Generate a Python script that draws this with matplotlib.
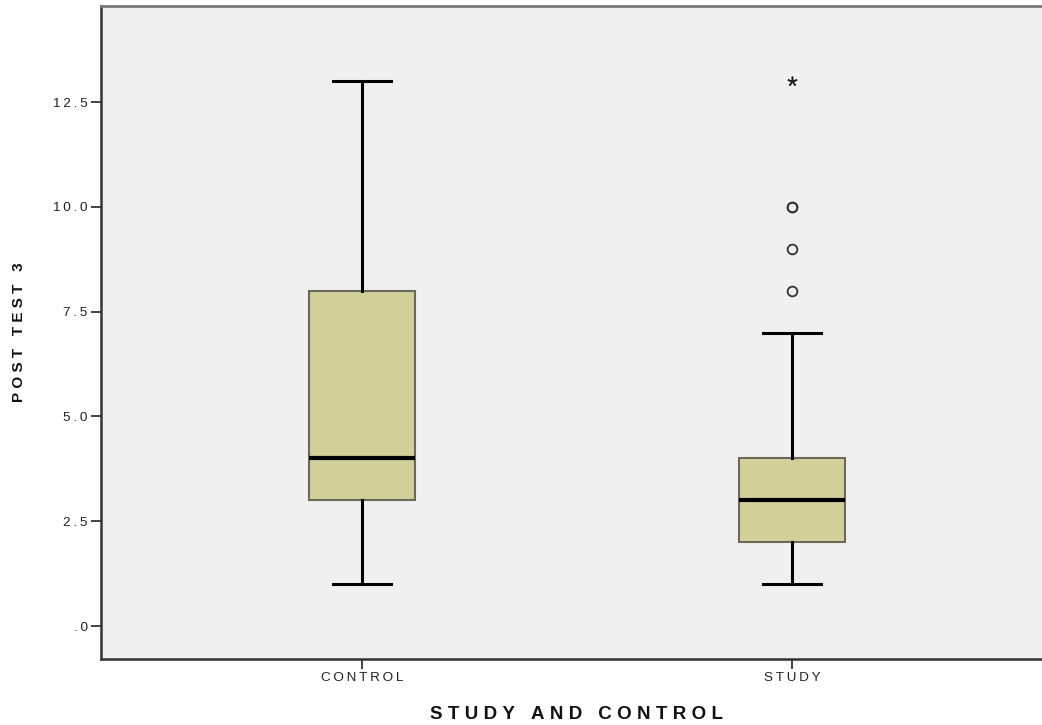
import matplotlib.pyplot as plt

# Group summary values
groups = ['CONTROL', 'STUDY']
whisker_low = [1, 1]
q1 = [3, 2]
medians = [4, 3]
q3 = [8, 4]
whisker_high = [13, 7]
outliers = [[], [8, 9, 10, 10]]      # circles
extremes = [[], [13]]                 # stars
y_ticks = [0, 2.5, 5.0, 7.5, 10.0, 12.5]
y_tick_labels = ['.0', '2.5', '5.0', '7.5', '10.0', '12.5']

FONT = ['Liberation Sans', 'DejaVu Sans']


def spaced(s, gap='\u2009'):
    # SPSS draws its text with wide letter spacing
    return gap.join(s)


fig = plt.figure(figsize=(10.42, 7.25), dpi=100)
ax = fig.add_axes([0.0969, 0.091, 0.9137, 0.9007])
ax.set_facecolor('#f0f0f0')

stats = []
for i, g in enumerate(groups):
    stats.append({'label': g, 'whislo': whisker_low[i], 'q1': q1[i], 'med': medians[i],
                  'q3': q3[i], 'whishi': whisker_high[i], 'fliers': outliers[i]})

positions = list(range(1, len(groups) + 1))
ax.bxp(stats, positions=positions, widths=0.247, patch_artist=True,
       boxprops=dict(facecolor='#d3cf98', edgecolor='#6a6a5a', linewidth=1.5),
       whiskerprops=dict(color='black', linewidth=2.2),
       capprops=dict(color='black', linewidth=2.2),
       medianprops=dict(color='black', linewidth=3),
       flierprops=dict(marker='o', markerfacecolor='none', markeredgecolor='#333333',
                       markersize=7, markeredgewidth=1.3),
       capwidths=0.135, zorder=3)

for i, ext in enumerate(extremes):
    if ext:
        ax.plot([positions[i]] * len(ext), ext, linestyle='none', marker=(5, 2, 0),
                color='#222222', markersize=7, markeredgewidth=1.1, zorder=4)

ax.set_xlim(0.393, 2.607)
ax.set_ylim(-0.787, 14.79)
ax.set_yticks(y_ticks)
ax.set_yticklabels([spaced(t) for t in y_tick_labels], fontsize=9.7,
                   family=FONT, color='#222222')
ax.set_xticks(positions)
ax.set_xticklabels([spaced(g) for g in groups], fontsize=9.7,
                   family=FONT, color='#222222')
ax.tick_params(axis='both', length=7, width=1.3, color='#333333', pad=2.5)

for side in ['left', 'bottom']:
    ax.spines[side].set_linewidth(1.8)
    ax.spines[side].set_color('#333333')
ax.spines['top'].set_linewidth(2)
ax.spines['top'].set_color('#777777')
ax.spines['right'].set_visible(False)

fig.text(0.5535, 0.0138, spaced('STUDY AND CONTROL', '\u2009\u200a'), ha='center',
         va='center', fontsize=13.5, fontweight='bold', family=FONT, color='#111111')
fig.text(0.018, 0.5414, spaced('POST TEST 3', '\u2009\u200a'), ha='center', va='center',
         rotation=90, fontsize=11, fontweight='bold', family=FONT, color='#111111')

plt.savefig('out.png', dpi=100)
